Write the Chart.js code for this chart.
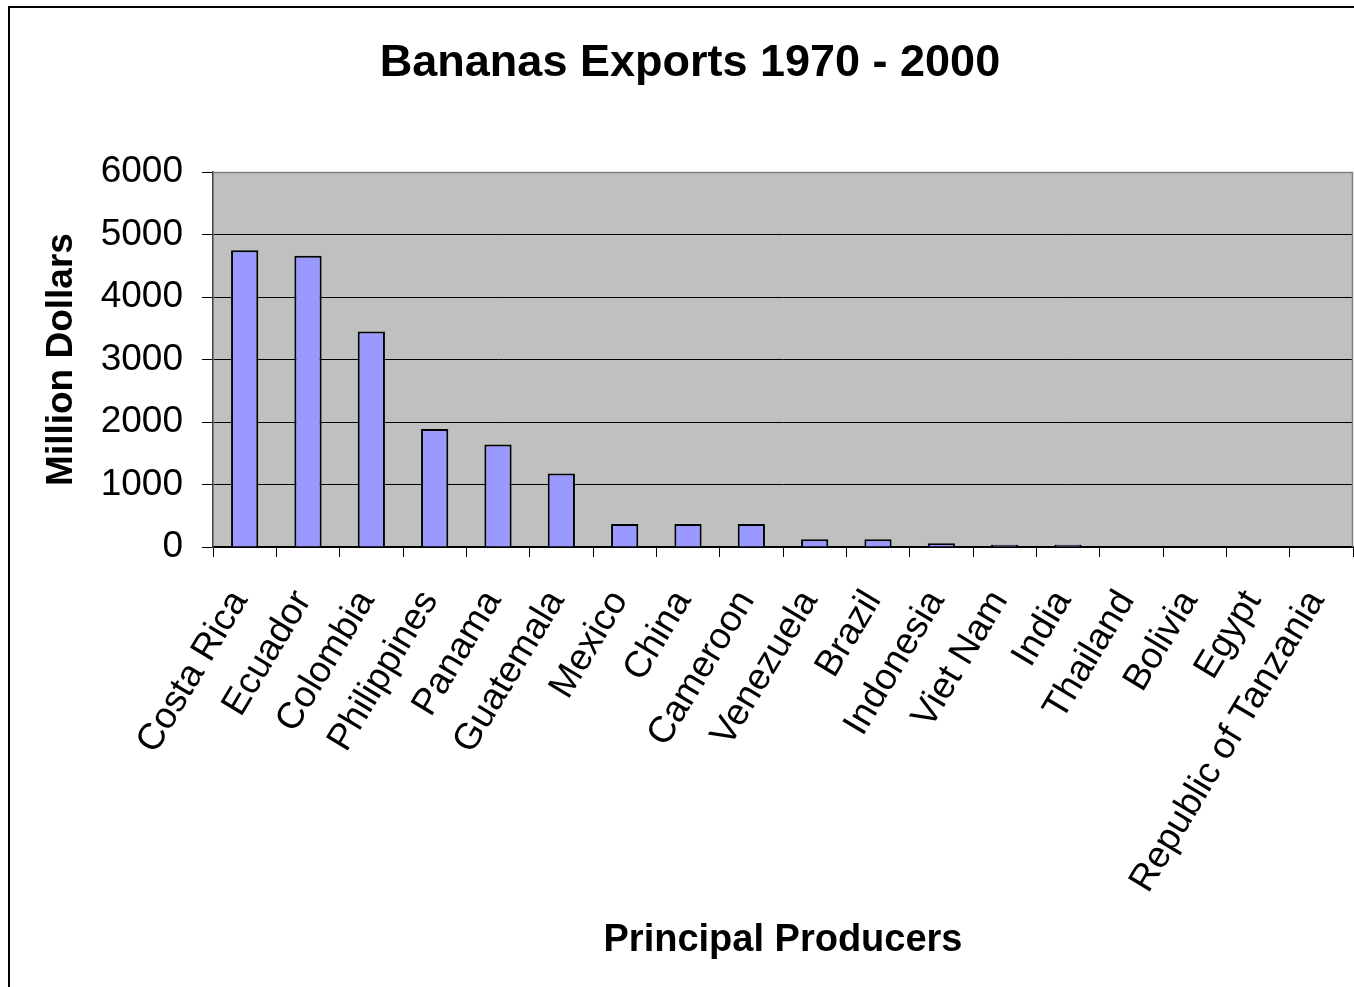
<!DOCTYPE html>
<html>
<head>
<meta charset="utf-8">
<script src="https://cdn.jsdelivr.net/npm/chart.js@4/dist/chart.umd.min.js"></script>
<style>
  html, body { margin: 0; padding: 0; background: #ffffff; overflow: hidden; }
  #wrap { width: 1354px; height: 987px; position: relative; }
</style>
</head>
<body>
<div id="wrap"><canvas id="c" width="1354" height="987"></canvas></div>
<script>
const categories = ["Costa Rica", "Ecuador", "Colombia", "Philippines", "Panama", "Guatemala",
  "Mexico", "China", "Cameroon", "Venezuela", "Brazil", "Indonesia", "Viet Nam", "India",
  "Thailand", "Bolivia", "Egypt", "Republic of Tanzania"];
const exportValues = [4750, 4660, 3450, 1890, 1640, 1175, 370, 370, 370, 125, 125, 60, 35, 35, 0, 0, 0, 0];
const yTicks = [0, 1000, 2000, 3000, 4000, 5000, 6000];
const titleText = "Bananas Exports 1970 - 2000";
const yTitle = "Million Dollars";
const xTitle = "Principal Producers";

const FONT = "'Liberation Sans', Arial, sans-serif";

const plotBg = {
  id: 'plotBg',
  beforeDraw(chart) {
    const {ctx, chartArea: a} = chart;
    ctx.save();
    ctx.fillStyle = '#ffffff';
    ctx.fillRect(0, 0, chart.width, chart.height);
    ctx.fillStyle = '#C0C0C0';
    ctx.fillRect(a.left, a.top, a.right - a.left, a.bottom - a.top);
    // outer frame (left and top visible)
    ctx.strokeStyle = '#000000';
    ctx.lineWidth = 2;
    ctx.beginPath();
    ctx.moveTo(9, chart.height);
    ctx.lineTo(9, 7);
    ctx.lineTo(chart.width, 7);
    ctx.stroke();
    ctx.restore();
  },
  afterDatasetsDraw(chart) {
    const {ctx, chartArea: a} = chart;
    ctx.save();
    ctx.strokeStyle = '#808080';
    ctx.lineWidth = 1.5;
    ctx.beginPath();
    ctx.moveTo(a.left, a.top + 0.5);
    ctx.lineTo(a.right - 0.5, a.top + 0.5);
    ctx.lineTo(a.right - 0.5, a.bottom);
    ctx.stroke();
    ctx.restore();
  }
};

new Chart(document.getElementById('c'), {
  type: 'bar',
  data: {
    labels: categories,
    datasets: [{
      data: exportValues,
      backgroundColor: '#9999FF',
      borderColor: '#000000',
      borderWidth: 2,
      borderSkipped: 'start',
      categoryPercentage: 1.0,
      barPercentage: 0.43
    }]
  },
  options: {
    responsive: false,
    animation: false,
    layout: { padding: { left: 27, right: 1, top: 0, bottom: 0 } },
    plugins: {
      legend: { display: false },
      tooltip: { enabled: false },
      title: {
        display: true,
        text: titleText,
        color: '#000000',
        font: { family: FONT, size: 45, weight: 'bold', lineHeight: 1.2 },
        padding: { top: 37, bottom: 81 }
      }
    },
    scales: {
      x: {
        offset: true,
        grid: {
          offset: true,
          drawOnChartArea: false,
          drawTicks: true,
          tickLength: 10,
          color: '#000000',
          lineWidth: 1
        },
        border: { display: true, color: '#000000', width: 1.5 },
        ticks: {
          color: '#000000',
          font: { family: FONT, size: 37 },
          minRotation: 59,
          maxRotation: 59,
          autoSkip: false,
          padding: 26,
          labelOffset: -5
        },
        title: {
          display: true,
          text: xTitle,
          color: '#000000',
          font: { family: FONT, size: 38, weight: 'bold', lineHeight: 1.2 },
          padding: { top: 0, bottom: 24 }
        },
        afterFit(scale) {
          scale.height = 440;
          scale.paddingLeft = 0;
          scale.paddingRight = 0;
        }
      },
      y: {
        min: 0,
        max: 6000,
        afterBuildTicks(scale) { scale.ticks = yTicks.map(v => ({ value: v })); },
        grid: {
          color: '#000000',
          lineWidth: 1,
          drawTicks: true,
          tickLength: 11
        },
        border: { display: true, color: '#404040', width: 1.5 },
        ticks: {
          color: '#000000',
          font: { family: FONT, size: 37 },
          padding: 19,
          callback: (v) => String(v)
        },
        title: {
          display: true,
          text: yTitle,
          color: '#000000',
          font: { family: FONT, size: 37, weight: 'bold', lineHeight: 1.2 },
          padding: { top: 13, bottom: 0 }
        },
        afterFit(scale) { scale.width = 186; }
      }
    }
  },
  plugins: [plotBg]
});
</script>
</body>
</html>
